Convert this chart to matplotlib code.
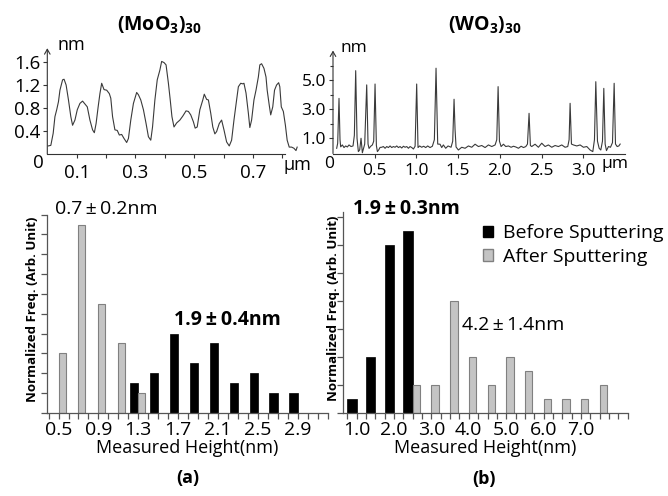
import matplotlib
matplotlib.use("Agg")
import matplotlib.pyplot as plt
import numpy as np
from matplotlib.patches import Patch

plt.rcParams['font.family'] = ['Open Sans', 'DejaVu Sans']
plt.rcParams['mathtext.fontset'] = 'custom'
plt.rcParams['mathtext.rm'] = 'Open Sans'
plt.rcParams['mathtext.bf'] = 'Open Sans:bold'

W, H = 668, 496

# --- (MoO3)30 height profile (um, nm) ---
mo_x = [0.003, 0.012, 0.020, 0.026, 0.032, 0.038, 0.043, 0.052, 0.057, 0.064,
        0.072, 0.080, 0.086, 0.094, 0.102, 0.111, 0.120, 0.128, 0.136, 0.145,
        0.154, 0.160, 0.166, 0.173, 0.179, 0.185, 0.193, 0.202, 0.211, 0.216,
        0.222, 0.230, 0.238, 0.245, 0.253, 0.261, 0.270, 0.276, 0.284, 0.293,
        0.304, 0.310, 0.318, 0.327, 0.336, 0.344, 0.352, 0.358, 0.366, 0.374,
        0.383, 0.389, 0.397, 0.404, 0.412, 0.418, 0.424, 0.431, 0.440, 0.451,
        0.461, 0.472, 0.480, 0.488, 0.497, 0.503, 0.510, 0.519, 0.529, 0.534,
        0.542, 0.548, 0.556, 0.563, 0.570, 0.576, 0.585, 0.593, 0.601, 0.610,
        0.619, 0.627, 0.635, 0.644, 0.650, 0.658, 0.665, 0.669, 0.676, 0.684,
        0.689, 0.695, 0.703, 0.710, 0.718, 0.723, 0.729, 0.737, 0.744, 0.748,
        0.755, 0.760, 0.767, 0.773, 0.780, 0.787, 0.791, 0.796, 0.803, 0.810,
        0.816, 0.823, 0.831, 0.839, 0.846, 0.850]
mo_h = [0.14, 0.15, 0.36, 0.65, 0.77, 0.91, 1.11, 1.29, 1.30, 1.20,
        0.94, 0.65, 0.50, 0.59, 0.77, 0.88, 0.92, 0.87, 0.82, 0.59,
        0.42, 0.37, 0.53, 0.82, 1.05, 1.23, 1.12, 1.11, 1.05, 0.97,
        0.65, 0.42, 0.41, 0.33, 0.34, 0.27, 0.20, 0.27, 0.59, 0.88,
        1.07, 1.03, 0.94, 0.77, 0.53, 0.30, 0.24, 0.47, 0.94, 1.29,
        1.46, 1.61, 1.59, 1.55, 1.23, 0.95, 0.65, 0.47, 0.54, 0.59,
        0.66, 0.75, 0.74, 0.68, 0.56, 0.45, 0.47, 0.77, 0.94, 1.04,
        0.95, 0.94, 0.71, 0.47, 0.35, 0.39, 0.53, 0.59, 0.42, 0.21,
        0.14, 0.24, 0.59, 0.94, 1.17, 1.23, 1.22, 1.23, 1.06, 0.71,
        0.46, 0.59, 0.94, 1.11, 1.34, 1.55, 1.57, 1.49, 1.34, 1.11,
        0.85, 0.68, 0.82, 1.11, 1.20, 1.24, 1.17, 0.82, 0.74, 0.50,
        0.24, 0.12, 0.12, 0.10, 0.06, 0.12]

# --- (WO3)30 height profile (um, nm) ---
w_x = [0.044, 0.056, 0.072, 0.084, 0.092, 0.112, 0.132, 0.152, 0.172, 0.192,
       0.216, 0.240, 0.256, 0.272, 0.288, 0.304, 0.320, 0.336, 0.352, 0.368,
       0.380, 0.404, 0.420, 0.432, 0.452, 0.472, 0.488, 0.504, 0.520, 0.532,
       0.548, 0.564, 0.584, 0.604, 0.624, 0.644, 0.664, 0.684, 0.704, 0.724,
       0.744, 0.764, 0.784, 0.804, 0.824, 0.844, 0.864, 0.884, 0.904, 0.924,
       0.944, 0.964, 0.984, 1.003, 1.019, 1.039, 1.063, 1.087, 1.111, 1.135,
       1.163, 1.191, 1.215, 1.235, 1.255, 1.283, 1.303, 1.323, 1.351, 1.379,
       1.415, 1.435, 1.451, 1.463, 1.475, 1.503, 1.543, 1.583, 1.623, 1.663,
       1.703, 1.743, 1.783, 1.823, 1.863, 1.903, 1.943, 1.963, 1.979, 1.995,
       2.015, 2.043, 2.071, 2.103, 2.135, 2.163, 2.191, 2.223, 2.255, 2.283,
       2.311, 2.331, 2.350, 2.366, 2.382, 2.422, 2.462, 2.502, 2.542, 2.582,
       2.622, 2.662, 2.702, 2.742, 2.782, 2.814, 2.830, 2.842, 2.858, 2.882,
       2.922, 2.962, 3.002, 3.042, 3.082, 3.114, 3.134, 3.150, 3.170, 3.190,
       3.210, 3.230, 3.246, 3.262, 3.278, 3.302, 3.326, 3.350, 3.370, 3.386,
       3.406, 3.426, 3.442]
w_h = [0.31, 0.65, 3.75, 0.90, 0.41, 0.54, 0.36, 0.47, 0.40, 0.54,
       0.43, 0.47, 1.20, 5.66, 1.00, 0.08, 0.20, 1.00, 0.00, 0.35,
       0.60, 4.68, 0.60, 0.30, 0.45, 0.54, 0.80, 4.74, 0.50, 0.08,
       0.20, 0.37, 0.38, 0.43, 0.31, 0.43, 0.36, 0.47, 0.36, 0.43,
       0.38, 0.47, 0.36, 0.43, 0.33, 0.45, 0.38, 0.43, 0.31, 0.43,
       0.36, 0.26, 0.45, 4.74, 0.36, 0.47, 0.38, 0.45, 0.36, 0.47,
       0.36, 0.45, 0.90, 5.83, 0.60, 0.59, 0.36, 0.54, 0.31, 0.47,
       0.38, 0.80, 3.69, 1.60, 0.40, 0.19, 0.38, 0.31, 0.47, 0.38,
       0.59, 0.43, 0.50, 0.36, 0.54, 0.43, 0.54, 0.90, 4.56, 0.80,
       0.43, 0.59, 0.43, 0.47, 0.38, 0.45, 0.40, 0.31, 0.45, 0.36,
       0.43, 0.60, 2.72, 0.50, 0.43, 0.59, 0.38, 0.66, 0.43, 0.54,
       0.38, 0.50, 0.43, 0.54, 0.38, 0.43, 0.90, 3.41, 0.60, 0.54,
       0.47, 0.54, 0.38, 0.43, 0.19, 0.08, 0.90, 4.90, 0.80, 0.31,
       0.19, 0.80, 4.44, 0.60, 0.15, 0.43, 0.38, 0.70, 4.79, 0.60,
       0.43, 0.47, 0.60]

# --- height histograms ---
a_bins = [0.5, 0.7, 0.9, 1.1, 1.3, 1.5, 1.7, 1.9, 2.1, 2.3, 2.5, 2.7, 2.9]
a_before = [0, 0, 0, 0, 1.5, 2, 4, 2.5, 3.5, 1.5, 2, 1, 1]
a_after = [3, 9.5, 5.5, 3.5, 1, 0, 0, 0, 0, 0, 0, 0, 0]
a_labels = ["0.5", "0.9", "1.3", "1.7", "2.1", "2.5", "2.9"]

b_bins = [1.0, 1.5, 2.0, 2.5, 3.0, 3.5, 4.0, 4.5, 5.0, 5.5, 6.0, 6.5, 7.0, 7.5]
b_before = [0.5, 2, 6, 6.5, 0, 0, 0, 0, 0, 0, 0, 0, 0, 0]
b_after = [0, 0, 0, 1, 1, 4, 2, 1, 2, 1.5, 0.5, 0.5, 0.5, 1]
b_labels = ["1.0", "2.0", "3.0", "4.0", "5.0", "6.0", "7.0"]

GRAY = "#c4c4c4"
GRAY_EDGE = "#808080"
AXC = "#555555"
PM = "\u2009±\u2009"


def px_axes(left, right, top, bottom):
    return fig.add_axes([left / W, 1 - bottom / H, (right - left) / W, (bottom - top) / H])


def profile_axes(ax):
    for s in ("top", "right", "left"):
        ax.spines[s].set_visible(False)
    ax.spines["bottom"].set_color("#333333")
    ax.spines["bottom"].set_linewidth(0.8)
    ax.annotate("", xy=(0, 1), xytext=(0, 0), xycoords="axes fraction",
                arrowprops=dict(arrowstyle="->,head_length=0.35,head_width=0.2",
                                lw=0.8, color="#333333", shrinkA=0, shrinkB=0))
    ax.tick_params(direction="out", length=3, width=0.8, color="#333333", pad=2)
    ax.tick_params(which="minor", direction="out", length=2, width=0.8, color="#333333")


fig = plt.figure(figsize=(W / 100, H / 100), dpi=100)

# --- top-left profile ---
ax1 = px_axes(47.3, 300.1, 48.2, 154)
ax1.plot(mo_x, mo_h, color="#3a3a3a", lw=0.8)
ax1.set_xlim(0, 0.86)
ax1.set_ylim(0, 1.84)
profile_axes(ax1)
ax1.spines["bottom"].set_bounds(0, 0.808)
ax1.set_yticks([0.4, 0.8, 1.2, 1.6])
ax1.set_yticklabels(["0.4", "0.8", "1.2", "1.6"], fontsize=13.5)
ax1.set_xticks([0.1, 0.2, 0.3, 0.4, 0.5, 0.6, 0.7, 0.8])
ax1.set_xticklabels(["0.1", "", "0.3", "", "0.5", "", "0.7", ""], fontsize=13.5)
ax1.tick_params(axis="x", pad=4)
ax1.annotate("0", xy=(0, 0), xycoords="axes fraction", xytext=(-9, -9),
             textcoords="offset pixels", ha="center", va="center", fontsize=13.5)
ax1.annotate("nm", xy=(0, 1), xycoords="axes fraction", xytext=(10, 3),
             textcoords="offset pixels", ha="left", va="center", fontsize=13)
ax1.annotate("μm", xy=(0.988, 0), xycoords="axes fraction", xytext=(0, -11),
             textcoords="offset pixels", ha="center", va="center", fontsize=13)
fig.text(160 / W, 1 - 25 / H, r"$\mathbf{(MoO_3)_{30}}$", ha="center", va="center",
         fontsize=14)

# --- top-right profile ---
ax2 = px_axes(333, 625, 50.5, 153.5)
ax2.plot(w_x, w_h, color="#3a3a3a", lw=0.8)
ax2.set_xlim(0, 3.5)
ax2.set_ylim(-0.05, 7.05)
profile_axes(ax2)
ax2.set_yticks([1, 3, 5])
ax2.set_yticklabels(["1.0", "3.0", "5.0"], fontsize=12.5)
ax2.set_yticks([2, 4, 6], minor=True)
ax2.set_xticks([0.5, 1.0, 1.5, 2.0, 2.5, 3.0])
ax2.set_xticklabels(["0.5", "1.0", "1.5", "2.0", "2.5", "3.0"], fontsize=12.5)
ax2.tick_params(axis="x", pad=4)
ax2.annotate("0", xy=(0, 0), xycoords="axes fraction", xytext=(-4, -10),
             textcoords="offset pixels", ha="center", va="center", fontsize=12.5)
ax2.annotate("nm", xy=(0, 1), xycoords="axes fraction", xytext=(7, 3),
             textcoords="offset pixels", ha="left", va="center", fontsize=12.5)
ax2.annotate("μm", xy=(0.966, 0), xycoords="axes fraction", xytext=(0, -10),
             textcoords="offset pixels", ha="center", va="center", fontsize=12.5)
fig.text(485 / W, 1 - 25 / H, r"$\mathbf{(WO_3)_{30}}$", ha="center", va="center",
         fontsize=14)


def hist_axes(ax):
    for s in ("top", "right"):
        ax.spines[s].set_visible(False)
    for s in ("left", "bottom"):
        ax.spines[s].set_color(AXC)
        ax.spines[s].set_linewidth(0.9)
    ax.tick_params(axis="y", direction="out", length=4, width=0.9, color=AXC, labelleft=False)
    ax.tick_params(axis="x", which="both", direction="out", length=4, width=0.9, color=AXC,
                   labelsize=14, pad=2)


# --- (a) histogram ---
ax3 = px_axes(47, 328, 214.7, 412.7)
ax3.bar([x for x, v in zip(a_bins, a_before) if v], [v for v in a_before if v],
        width=-0.083, align="edge", color="black", edgecolor="black", lw=0.5)
ax3.bar([x for x, v in zip(a_bins, a_after) if v], [v for v in a_after if v],
        width=0.07, align="edge", color=GRAY, edgecolor=GRAY_EDGE, lw=0.8)
ax3.set_xlim(0.384, 3.205)
ax3.set_ylim(0, 10)
hist_axes(ax3)
ax3.set_yticks(np.arange(0, 11, 1))
ax3.set_xticks(a_bins[::2])
ax3.set_xticklabels(a_labels)
ax3.set_xticks(np.arange(0.4, 3.21, 0.1), minor=True)
ax3.set_xlabel("Measured Height(nm)", fontsize=13, labelpad=0)
ax3.text(-0.05, 0.52, "Normalized Freq. (Arb. Unit)", transform=ax3.transAxes,
         rotation=90, ha="center", va="center", fontsize=9.5, fontweight="bold")
ax3.text(0.029, 1.03, "0.7" + PM + "0.2nm", transform=ax3.transAxes, ha="left",
         va="center", fontsize=14)
ax3.text(0.453, 0.468, "1.9" + PM + "0.4nm", transform=ax3.transAxes, ha="left",
         va="center", fontsize=14, fontweight="bold")
ax3.text(0.5, -0.33, "(a)", transform=ax3.transAxes, ha="center", va="center",
         fontsize=13, fontweight="bold")

# --- (b) histogram ---
ax4 = px_axes(343, 628.3, 212, 412.7)
ax4.bar([x for x, v in zip(b_bins, b_before) if v], [v for v in b_before if v],
        width=-0.25, align="edge", color="black", edgecolor="black", lw=0.5)
ax4.bar([x for x, v in zip(b_bins, b_after) if v], [v for v in b_after if v],
        width=0.2, align="edge", color=GRAY, edgecolor=GRAY_EDGE, lw=0.8)
ax4.set_xlim(0.636, 8.265)
ax4.set_ylim(0, 7.17)
hist_axes(ax4)
ax4.set_yticks(np.arange(0, 8, 1))
ax4.set_xticks([1.0, 2.0, 3.0, 4.0, 5.0, 6.0, 7.0])
ax4.set_xticklabels(b_labels)
ax4.set_xticks(np.arange(0.75, 8.26, 0.25), minor=True)
ax4.set_xlabel("Measured Height(nm)", fontsize=13, labelpad=0)
ax4.text(-0.035, 0.52, "Normalized Freq. (Arb. Unit)", transform=ax4.transAxes,
         rotation=90, ha="center", va="center", fontsize=9.5, fontweight="bold")
ax4.text(0.035, 1.013, "1.9" + PM + "0.3nm", transform=ax4.transAxes, ha="left",
         va="center", fontsize=14, fontweight="bold")
ax4.text(0.418, 0.438, "4.2" + PM + "1.4nm", transform=ax4.transAxes, ha="left",
         va="center", fontsize=14)
ax4.text(0.495, -0.33, "(b)", transform=ax4.transAxes, ha="center", va="center",
         fontsize=13, fontweight="bold")
handles = [Patch(facecolor="black", edgecolor="black"),
           Patch(facecolor=GRAY, edgecolor=GRAY_EDGE)]
ax4.legend(handles, ["Before Sputtering", "After Sputtering"], loc="upper left",
           bbox_to_anchor=(0.491, 0.94), frameon=False, fontsize=14,
           handlelength=0.5, handleheight=0.5, handletextpad=0.5,
           labelspacing=0.3, borderpad=0, borderaxespad=0)

fig.savefig("out.png", dpi=100)
